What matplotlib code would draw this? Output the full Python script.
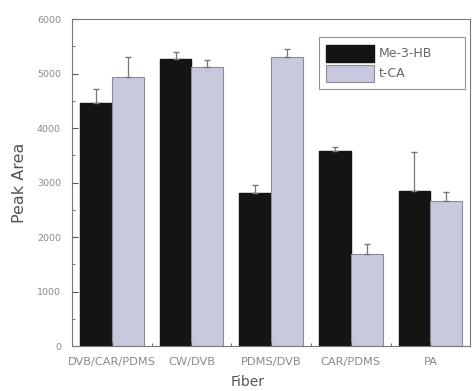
import matplotlib.pyplot as plt
import numpy as np

# data
fibers = ['DVB/CAR/PDMS', 'CW/DVB', 'PDMS/DVB', 'CAR/PDMS', 'PA']
me3hb = [4470, 5265, 2810, 3580, 2840]
me3hb_err = [250, 130, 140, 70, 720]
tca = [4935, 5120, 5300, 1690, 2660]
tca_err = [370, 130, 150, 180, 170]

gray_txt = '#8a8a8a'
x = np.arange(len(fibers))
w = 0.4

fig = plt.figure(figsize=(4.74, 3.91), dpi=100)
ax = fig.add_axes([0.152, 0.115, 0.840, 0.836])

ax.bar(x - w / 2, me3hb, w, color='#141414', edgecolor='#141414', label='Me-3-HB',
       yerr=[np.zeros(5), me3hb_err], error_kw=dict(ecolor='#777777', capsize=2, elinewidth=0.9))
ax.bar(x + w / 2, tca, w, color='#c8c8de', edgecolor='#8c8c99', linewidth=0.8, label='t-CA',
       yerr=[np.zeros(5), tca_err], error_kw=dict(ecolor='#777777', capsize=2, elinewidth=0.9))

ax.set_xlim(-0.5, 4.5)
ax.set_ylim(0, 6000)
ax.set_yticks(np.arange(0, 6001, 1000))
ax.set_yticks(np.arange(0, 6001, 500), minor=True)
ax.set_xticks(x)
ax.set_xticklabels(fibers)
ax.set_xticks(np.arange(-0.5, 4.6, 1), minor=True)
ax.tick_params(axis='both', which='both', direction='in', colors='#555555', labelcolor=gray_txt)
ax.tick_params(axis='y', labelsize=6.8, length=4, pad=8)
ax.tick_params(axis='y', which='minor', length=2)
ax.tick_params(axis='x', labelsize=8.2, length=3, pad=8)
ax.tick_params(axis='x', which='minor', length=2)
for s in ax.spines.values():
    s.set_color('#777777')

ax.set_ylabel('Peak Area', fontsize=11.5, color='#555555')
ax.yaxis.set_label_coords(-0.113, 0.5)
ax.set_xlabel('Fiber', fontsize=10, color='#555555')
ax.xaxis.set_label_coords(0.442, -0.088)

leg = ax.legend(loc='upper left', bbox_to_anchor=(0.62, 0.945, 0.367, 0.0), mode='expand',
                fontsize=9, frameon=True, fancybox=False, handlelength=3.8, handleheight=1.7,
                borderpad=0.6, labelspacing=0.25, handletextpad=0.4, borderaxespad=0)
leg.get_frame().set_edgecolor('#777777')
leg.get_frame().set_linewidth(0.8)
for t in leg.get_texts():
    t.set_color('#666666')

fig.savefig('out.png', dpi=100)
